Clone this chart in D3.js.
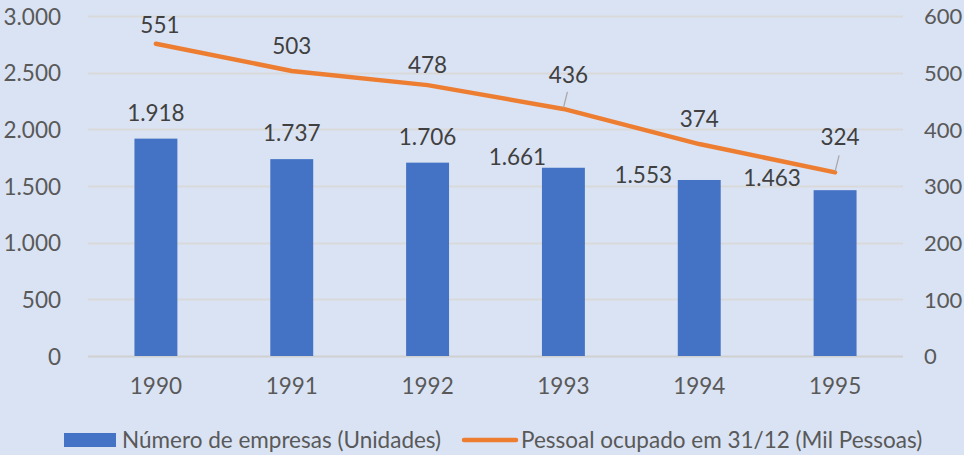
<!DOCTYPE html>
<html>
<head>
<meta charset="utf-8">
<script src="https://cdn.jsdelivr.net/npm/d3@7"></script>
<style>
  body { margin: 0; background: #dae3f3; }
  text { font-family: Lato, "Open Sans", sans-serif; }
</style>
</head>
<body>
<div id="chart"></div>
<script>
// data
var years = ["1990", "1991", "1992", "1993", "1994", "1995"];
var empresas = [1918, 1737, 1706, 1661, 1553, 1463];
var pessoal = [551, 503, 478, 436, 374, 324];
var leftTicks = [0, 500, 1000, 1500, 2000, 2500, 3000];
var rightTicks = [0, 100, 200, 300, 400, 500, 600];
var seriesNames = ["Número de empresas (Unidades)", "Pessoal ocupado em 31/12 (Mil Pessoas)"];

// label placement (pixel offsets from the anchor point, like Excel's moved labels)
var barLabelShift = [[0, -26], [0, -26], [0, -26], [-46, -11], [-56, -5], [-63, -12]];
var lineLabelShift = [[4, -19], [0, -25], [0, -20], [5, -34], [0, -25], [5, -36]];

var width = 964, height = 455;
var margin = {top: 16, right: 61, bottom: 99, left: 88};
var fs = "22.5px";
var fmt = function(v) { return d3.format(",")(v).replace(/,/g, "."); };

var svg = d3.select("#chart").append("svg")
    .attr("width", width)
    .attr("height", height);

svg.append("rect")
    .attr("width", width)
    .attr("height", height)
    .attr("fill", "#dae3f3");

var x = d3.scaleBand()
    .domain(years)
    .range([margin.left, width - margin.right]);

var yLeft = d3.scaleLinear()
    .domain([0, 3000])
    .range([height - margin.bottom, margin.top]);

var yRight = d3.scaleLinear()
    .domain([0, 600])
    .range([height - margin.bottom, margin.top]);

// gridlines
svg.append("g")
    .selectAll("line")
    .data(leftTicks)
  .enter().append("line")
    .attr("x1", margin.left)
    .attr("x2", width - margin.right)
    .attr("y1", function(d) { return Math.round(yLeft(d)) + 0.5; })
    .attr("y2", function(d) { return Math.round(yLeft(d)) + 0.5; })
    .attr("stroke", function(d) { return d === 0 ? "#d0d0d0" : "#d9d9d9"; })
    .attr("stroke-width", 2);

// left axis
svg.append("g")
    .attr("transform", "translate(" + (margin.left - 24) + ",0)")
    .call(d3.axisLeft(yLeft).tickValues(leftTicks).tickSize(0).tickFormat(fmt))
    .call(function(g) { g.select(".domain").remove(); })
    .selectAll("text")
    .attr("fill", "#595959")
    .attr("font-size", fs)
    .attr("dy", "0.36em");

// right axis
svg.append("g")
    .attr("transform", "translate(" + (width - margin.right + 18) + ",0)")
    .call(d3.axisRight(yRight).tickValues(rightTicks).tickSize(0))
    .call(function(g) { g.select(".domain").remove(); })
    .selectAll("text")
    .attr("fill", "#595959")
    .attr("font-size", "22px")
    .attr("dy", "0.36em");

// x axis
svg.append("g")
    .attr("transform", "translate(0," + (height - margin.bottom + 19) + ")")
    .call(d3.axisBottom(x).tickSize(0))
    .call(function(g) { g.select(".domain").remove(); })
    .selectAll("text")
    .attr("fill", "#595959")
    .attr("font-size", fs)
    .attr("dy", "0.71em");

// bars
var barW = x.bandwidth() * 0.316;
svg.append("g")
    .selectAll("rect")
    .data(empresas)
  .enter().append("rect")
    .attr("x", function(d, i) { return x(years[i]) + (x.bandwidth() - barW) / 2; })
    .attr("y", function(d) { return yLeft(d); })
    .attr("width", barW)
    .attr("height", function(d) { return yLeft(0) - yLeft(d); })
    .attr("fill", "#4472c4");

// bar labels
svg.append("g")
    .selectAll("text")
    .data(empresas)
  .enter().append("text")
    .attr("x", function(d, i) { return x(years[i]) + x.bandwidth() / 2 + barLabelShift[i][0]; })
    .attr("y", function(d, i) { return yLeft(d) + barLabelShift[i][1]; })
    .attr("dy", "0.36em")
    .attr("text-anchor", "middle")
    .attr("font-size", fs)
    .attr("fill", "#404040")
    .text(fmt);

// line
var line = d3.line()
    .x(function(d, i) { return x(years[i]) + x.bandwidth() / 2; })
    .y(function(d) { return yRight(d); });

svg.append("path")
    .datum(pessoal)
    .attr("d", line)
    .attr("fill", "none")
    .attr("stroke", "#ed7d31")
    .attr("stroke-width", 4.5)
    .attr("stroke-linecap", "round")
    .attr("stroke-linejoin", "round");

// leader lines for moved labels
[3, 5].forEach(function(i) {
  var px = x(years[i]) + x.bandwidth() / 2;
  var py = yRight(pessoal[i]);
  svg.append("line")
    .attr("x1", px)
    .attr("y1", py - 1)
    .attr("x2", px + 4)
    .attr("y2", py - 17)
    .attr("stroke", "#a6a6a6")
    .attr("stroke-width", 1.2);
});

// line labels
svg.append("g")
    .selectAll("text")
    .data(pessoal)
  .enter().append("text")
    .attr("x", function(d, i) { return x(years[i]) + x.bandwidth() / 2 + lineLabelShift[i][0]; })
    .attr("y", function(d, i) { return yRight(d) + lineLabelShift[i][1]; })
    .attr("dy", "0.36em")
    .attr("text-anchor", "middle")
    .attr("font-size", fs)
    .attr("fill", "#404040")
    .text(function(d) { return d; });

// legend
var legend = svg.append("g");
legend.append("rect")
    .attr("x", 64)
    .attr("y", 433)
    .attr("width", 52)
    .attr("height", 14)
    .attr("fill", "#4472c4");
legend.append("text")
    .attr("x", 122)
    .attr("y", 440)
    .attr("dy", "0.36em")
    .attr("font-size", fs)
    .attr("fill", "#595959")
    .text(seriesNames[0]);
legend.append("line")
    .attr("x1", 464)
    .attr("x2", 516)
    .attr("y1", 440)
    .attr("y2", 440)
    .attr("stroke", "#ed7d31")
    .attr("stroke-width", 4.5)
    .attr("stroke-linecap", "round");
legend.append("text")
    .attr("x", 521)
    .attr("y", 440)
    .attr("dy", "0.36em")
    .attr("font-size", fs)
    .attr("fill", "#595959")
    .text(seriesNames[1]);
</script>
</body>
</html>
